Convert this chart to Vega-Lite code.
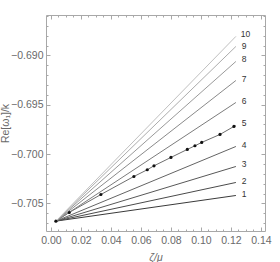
{
  "$schema": "https://vega.github.io/schema/vega-lite/v6.json",
  "width": 219,
  "height": 216,
  "autosize": {"type": "none"},
  "padding": {"left": 46, "top": 15, "right": 15, "bottom": 31},
  "background": "white",
  "config": {
    "view": {"stroke": "#a8a8a8", "strokeWidth": 1},
    "font": "Liberation Sans",
    "axis": {
      "domain": false,
      "grid": false,
      "tickColor": "#a8a8a8",
      "labelColor": "#6a6a6a",
      "labelFont": "Liberation Sans",
      "labelFontSize": 10.5,
      "titleColor": "#6a6a6a",
      "titleFont": "Liberation Sans",
      "titleFontSize": 10.5,
      "titleFontWeight": "normal"
    }
  },
  "datasets": {
    "lines": [
      {"k": 1, "x": 0.0033, "y": -0.7068}, {"k": 1, "x": 0.1233, "y": -0.7042},
      {"k": 2, "x": 0.0033, "y": -0.7068}, {"k": 2, "x": 0.1233, "y": -0.70288},
      {"k": 3, "x": 0.0033, "y": -0.7068}, {"k": 3, "x": 0.1233, "y": -0.70126},
      {"k": 4, "x": 0.0033, "y": -0.7068}, {"k": 4, "x": 0.1233, "y": -0.69923},
      {"k": 5, "x": 0.0033, "y": -0.7068}, {"k": 5, "x": 0.0122, "y": -0.70592},
      {"k": 5, "x": 0.0333, "y": -0.7041}, {"k": 5, "x": 0.0553, "y": -0.70227},
      {"k": 5, "x": 0.0642, "y": -0.70159}, {"k": 5, "x": 0.0687, "y": -0.70119},
      {"k": 5, "x": 0.08, "y": -0.70034}, {"k": 5, "x": 0.0909, "y": -0.69953},
      {"k": 5, "x": 0.096, "y": -0.69916}, {"k": 5, "x": 0.1005, "y": -0.69882},
      {"k": 5, "x": 0.1127, "y": -0.69801}, {"k": 5, "x": 0.122, "y": -0.6972},
      {"k": 5, "x": 0.1233, "y": -0.69713},
      {"k": 6, "x": 0.0033, "y": -0.7068}, {"k": 6, "x": 0.1233, "y": -0.69477},
      {"k": 7, "x": 0.0033, "y": -0.7068}, {"k": 7, "x": 0.1233, "y": -0.69254},
      {"k": 8, "x": 0.0033, "y": -0.7068}, {"k": 8, "x": 0.1233, "y": -0.69061},
      {"k": 9, "x": 0.0033, "y": -0.7068}, {"k": 9, "x": 0.1233, "y": -0.68909},
      {"k": 10, "x": 0.0033, "y": -0.7068}, {"k": 10, "x": 0.1233, "y": -0.68807}
    ],
    "dots": [
      {"x": 0.0033, "y": -0.7068}, {"x": 0.0122, "y": -0.70592},
      {"x": 0.0333, "y": -0.7041}, {"x": 0.0553, "y": -0.70227},
      {"x": 0.0642, "y": -0.70159}, {"x": 0.0687, "y": -0.70119},
      {"x": 0.08, "y": -0.70034}, {"x": 0.0909, "y": -0.69953},
      {"x": 0.096, "y": -0.69916}, {"x": 0.1005, "y": -0.69882},
      {"x": 0.1127, "y": -0.69801}, {"x": 0.122, "y": -0.6972}
    ],
    "labels": [
      {"k": "1", "x": 0.1272, "y": -0.704}, {"k": "2", "x": 0.1272, "y": -0.70268},
      {"k": "3", "x": 0.1272, "y": -0.70105}, {"k": "4", "x": 0.1272, "y": -0.69903},
      {"k": "5", "x": 0.1272, "y": -0.6969}, {"k": "6", "x": 0.1272, "y": -0.69461},
      {"k": "7", "x": 0.1272, "y": -0.69238}, {"k": "8", "x": 0.1272, "y": -0.69041},
      {"k": "9", "x": 0.1272, "y": -0.68904}, {"k": "10", "x": 0.1265, "y": -0.68787}
    ]
  },
  "layer": [
    {
      "data": {"name": "lines"},
      "mark": {"type": "line", "strokeWidth": 1},
      "encoding": {
        "x": {
          "field": "x", "type": "quantitative",
          "scale": {"domain": [-0.0033, 0.1427], "nice": false, "zero": false},
          "axis": {
            "orient": "bottom", "title": "ζ/μ", "titleFontStyle": "italic",
            "values": [0, 0.005, 0.01, 0.015, 0.02, 0.025, 0.03, 0.035, 0.04, 0.045, 0.05, 0.055, 0.06, 0.065, 0.07, 0.075, 0.08, 0.085, 0.09, 0.095, 0.1, 0.105, 0.11, 0.115, 0.12, 0.125, 0.13, 0.135, 0.14],
            "labelExpr": "abs(datum.value*50 - round(datum.value*50)) > 0.01 ? '' : format(datum.value, '.2f')",
            "tickSize": {"condition": {"test": "abs(datum.value*50 - round(datum.value*50)) > 0.01", "value": -2}, "value": -4},
            "labelPadding": 8,
            "titlePadding": 7
          }
        },
        "y": {
          "field": "y", "type": "quantitative",
          "scale": {"domain": [-0.7078, -0.6859], "nice": false, "zero": false},
          "axis": {
            "orient": "left", "title": "Re[ω₁]/k",
            "values": [-0.707, -0.706, -0.705, -0.704, -0.703, -0.702, -0.701, -0.7, -0.699, -0.698, -0.697, -0.696, -0.695, -0.694, -0.693, -0.692, -0.691, -0.69, -0.689, -0.688, -0.687, -0.686],
            "labelExpr": "abs(datum.value*200 - round(datum.value*200)) > 0.01 ? '' : format(datum.value, '.3f')",
            "tickSize": {"condition": {"test": "abs(datum.value*200 - round(datum.value*200)) > 0.01", "value": -2}, "value": -4},
            "labelPadding": 7,
            "titlePadding": 0
          }
        },
        "color": {
          "field": "k", "type": "ordinal", "legend": null,
          "scale": {"domain": [1, 2, 3, 4, 5, 6, 7, 8, 9, 10],
                    "range": ["#3a3a3a", "#4a4a4a", "#585858", "#646464", "#6e6e6e", "#7c7c7c", "#8a8a8a", "#9a9a9a", "#acacac", "#c0c0c0"]}
        },
        "order": {"field": "x", "type": "quantitative"}
      }
    },
    {
      "data": {"name": "dots"},
      "mark": {"type": "point", "filled": true, "size": 10, "color": "#111111", "opacity": 1},
      "encoding": {
        "x": {
          "field": "x", "type": "quantitative",
          "scale": {"domain": [-0.0033, 0.1427], "nice": false, "zero": false},
          "axis": {
            "orient": "top", "title": null, "labels": false,
            "values": [0, 0.005, 0.01, 0.015, 0.02, 0.025, 0.03, 0.035, 0.04, 0.045, 0.05, 0.055, 0.06, 0.065, 0.07, 0.075, 0.08, 0.085, 0.09, 0.095, 0.1, 0.105, 0.11, 0.115, 0.12, 0.125, 0.13, 0.135, 0.14],
            "tickSize": {"condition": {"test": "abs(datum.value*50 - round(datum.value*50)) > 0.01", "value": -2}, "value": -4}
          }
        },
        "y": {
          "field": "y", "type": "quantitative",
          "scale": {"domain": [-0.7078, -0.6859], "nice": false, "zero": false},
          "axis": {
            "orient": "right", "title": null, "labels": false,
            "values": [-0.707, -0.706, -0.705, -0.704, -0.703, -0.702, -0.701, -0.7, -0.699, -0.698, -0.697, -0.696, -0.695, -0.694, -0.693, -0.692, -0.691, -0.69, -0.689, -0.688, -0.687, -0.686],
            "tickSize": {"condition": {"test": "abs(datum.value*200 - round(datum.value*200)) > 0.01", "value": -2}, "value": -4}
          }
        }
      }
    },
    {
      "data": {"name": "labels"},
      "mark": {"type": "text", "align": "left", "baseline": "middle", "fontSize": 8.5, "color": "#333333", "font": "Liberation Sans"},
      "encoding": {
        "x": {"field": "x", "type": "quantitative", "scale": {"domain": [-0.0033, 0.1427], "nice": false, "zero": false}, "axis": null},
        "y": {"field": "y", "type": "quantitative", "scale": {"domain": [-0.7078, -0.6859], "nice": false, "zero": false}, "axis": null},
        "text": {"field": "k"}
      }
    }
  ],
  "resolve": {"axis": {"x": "independent", "y": "independent"}}
}
